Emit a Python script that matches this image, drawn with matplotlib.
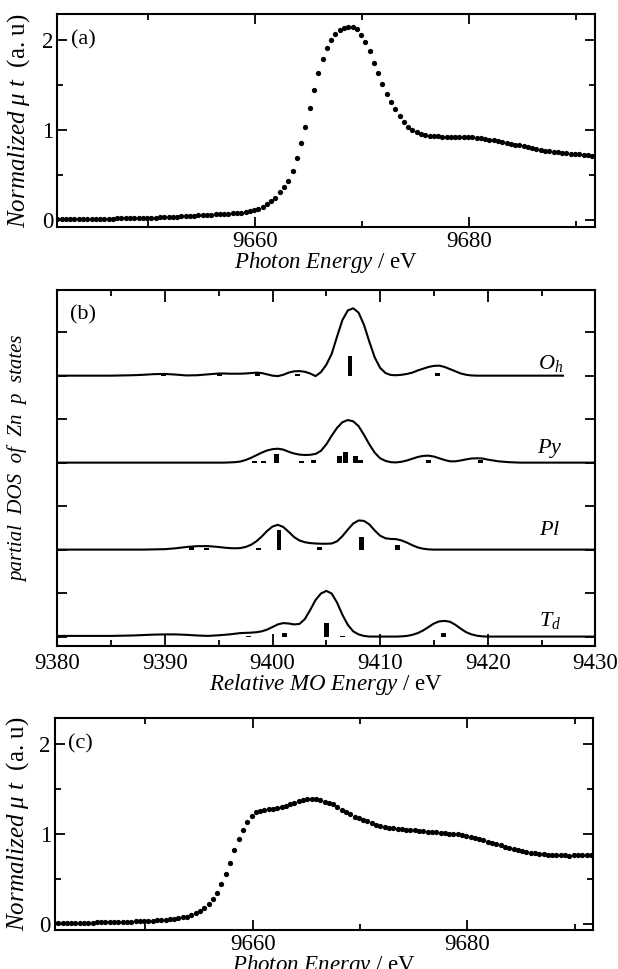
import numpy as np
import matplotlib
matplotlib.use("Agg")
import matplotlib.pyplot as plt
from matplotlib.ticker import FixedLocator, MultipleLocator, NullFormatter

plt.rcParams['font.family'] = ['Liberation Serif', 'DejaVu Serif']
plt.rcParams['mathtext.fontset'] = 'custom'
plt.rcParams['mathtext.rm'] = 'Liberation Serif'
plt.rcParams['mathtext.it'] = 'Liberation Serif:italic'
plt.rcParams['mathtext.bf'] = 'Liberation Serif:bold'

# ---- XANES spectra, panels (a) and (c) ----
photon_energy = [
    9641.5, 9641.9, 9642.3, 9642.7, 9643.1, 9643.5, 9643.9, 9644.3, 9644.7, 9645.1,
    9645.5, 9645.9, 9646.3, 9646.7, 9647.1, 9647.5, 9647.9, 9648.3, 9648.7, 9649.1,
    9649.5, 9649.9, 9650.3, 9650.7, 9651.1, 9651.5, 9651.9, 9652.3, 9652.7, 9653.1,
    9653.5, 9653.9, 9654.3, 9654.7, 9655.1, 9655.5, 9655.9, 9656.3, 9656.7, 9657.1,
    9657.5, 9657.9, 9658.3, 9658.7, 9659.1, 9659.5, 9659.9, 9660.3, 9660.7, 9661.1,
    9661.5, 9661.9, 9662.3, 9662.7, 9663.1, 9663.5, 9663.9, 9664.3, 9664.7, 9665.1,
    9665.5, 9665.9, 9666.3, 9666.7, 9667.1, 9667.5, 9667.9, 9668.3, 9668.7, 9669.1,
    9669.5, 9669.9, 9670.3, 9670.7, 9671.1, 9671.5, 9671.9, 9672.3, 9672.7, 9673.1,
    9673.5, 9673.9, 9674.3, 9674.7, 9675.1, 9675.5, 9675.9, 9676.3, 9676.7, 9677.1,
    9677.5, 9677.9, 9678.3, 9678.7, 9679.1, 9679.5, 9679.9, 9680.3, 9680.7, 9681.1,
    9681.5, 9681.9, 9682.3, 9682.7, 9683.1, 9683.5, 9683.9, 9684.3, 9684.7, 9685.1,
    9685.5, 9685.9, 9686.3, 9686.7, 9687.1, 9687.5, 9687.9, 9688.3, 9688.7, 9689.1,
    9689.5, 9689.9, 9690.3, 9690.7, 9691.1, 9691.5]

mu_a = [
    0.010, 0.010, 0.010, 0.010, 0.012, 0.012, 0.013, 0.013, 0.014, 0.015,
    0.015, 0.016, 0.017, 0.018, 0.019, 0.020, 0.021, 0.022, 0.023, 0.024,
    0.025, 0.026, 0.027, 0.029, 0.031, 0.033, 0.035, 0.037, 0.040, 0.042,
    0.044, 0.047, 0.050, 0.053, 0.056, 0.059, 0.062, 0.065, 0.068, 0.071,
    0.074, 0.078, 0.081, 0.085, 0.090, 0.098, 0.110, 0.125, 0.150, 0.185,
    0.21, 0.25, 0.31, 0.37, 0.43, 0.55, 0.69, 0.86, 1.04, 1.25,
    1.45, 1.64, 1.79, 1.91, 2.00, 2.07, 2.11, 2.14, 2.15, 2.15,
    2.12, 2.06, 1.98, 1.88, 1.75, 1.63, 1.51, 1.40, 1.31, 1.23,
    1.16, 1.09, 1.04, 1.00, 0.975, 0.96, 0.95, 0.94, 0.935, 0.93,
    0.925, 0.92, 0.92, 0.922, 0.925, 0.925, 0.922, 0.92, 0.915, 0.91,
    0.905, 0.895, 0.89, 0.88, 0.87, 0.86, 0.85, 0.84, 0.83, 0.82,
    0.81, 0.80, 0.79, 0.78, 0.77, 0.765, 0.76, 0.755, 0.75, 0.745,
    0.74, 0.735, 0.73, 0.725, 0.72, 0.715]

mu_c = [
    0.005, 0.006, 0.007, 0.008, 0.009, 0.010, 0.010, 0.011, 0.012, 0.013,
    0.014, 0.015, 0.016, 0.017, 0.018, 0.019, 0.020, 0.021, 0.023, 0.025,
    0.027, 0.029, 0.031, 0.034, 0.037, 0.040, 0.044, 0.049, 0.055, 0.062,
    0.070, 0.080, 0.095, 0.115, 0.140, 0.180, 0.225, 0.275, 0.340, 0.440,
    0.55, 0.68, 0.82, 0.95, 1.05, 1.13, 1.20, 1.24, 1.26, 1.27,
    1.275, 1.28, 1.29, 1.30, 1.315, 1.33, 1.35, 1.37, 1.38, 1.39,
    1.39, 1.385, 1.375, 1.36, 1.345, 1.33, 1.30, 1.27, 1.245, 1.22,
    1.195, 1.175, 1.155, 1.14, 1.12, 1.10, 1.09, 1.08, 1.07, 1.065,
    1.06, 1.055, 1.05, 1.045, 1.04, 1.035, 1.03, 1.025, 1.02, 1.02,
    1.015, 1.01, 1.005, 1.00, 0.995, 0.99, 0.98, 0.97, 0.96, 0.945,
    0.93, 0.915, 0.90, 0.89, 0.875, 0.86, 0.845, 0.83, 0.82, 0.81,
    0.80, 0.79, 0.785, 0.78, 0.775, 0.77, 0.768, 0.765, 0.763, 0.762,
    0.76, 0.762, 0.765, 0.767, 0.77, 0.77]

# ---- partial DOS, panel (b) ----
mo_energy = [
    9380, 9381, 9382, 9383, 9384, 9385, 9386, 9387, 9388, 9389,
    9390, 9391, 9392, 9393, 9394, 9395, 9395.5, 9396, 9396.5, 9397,
    9397.5, 9398, 9398.5, 9399, 9399.5, 9400, 9400.5, 9401, 9401.5, 9402,
    9402.5, 9403, 9403.5, 9404, 9404.5, 9405, 9405.5, 9406, 9406.5, 9407,
    9407.5, 9408, 9408.5, 9409, 9409.5, 9410, 9410.5, 9411, 9411.5, 9412,
    9412.5, 9413, 9413.5, 9414, 9414.5, 9415, 9415.5, 9416, 9416.5, 9417,
    9417.5, 9418, 9418.5, 9419, 9419.5, 9420, 9421, 9422, 9423, 9424,
    9425, 9426, 9427, 9428, 9429, 9430]

nan = float('nan')
dos_oh = [
    0, 0, 0, 0, 0, 0, 0.005, 0.01, 0.02, 0.035,
    0.04, 0.025, 0.005, 0.01, 0.03, 0.05, 0.05, 0.045, 0.045, 0.045,
    0.05, 0.06, 0.07, 0.06, 0.03, 0.0, -0.01, 0.02, 0.07, 0.10,
    0.105, 0.09, 0.05, -0.01, 0.08, 0.25, 0.50, 0.90, 1.28, 1.50,
    1.55, 1.45, 1.17, 0.78, 0.42, 0.18, 0.06, 0.015, 0.01, 0.02,
    0.04, 0.07, 0.12, 0.16, 0.20, 0.225, 0.23, 0.20, 0.15, 0.10,
    0.05, 0.02, 0.005, 0, 0, 0, 0, 0, 0, 0,
    0, 0, 0, nan, nan, nan]
dos_py = [
    0, 0, 0, 0, 0, 0, 0, 0, 0, 0,
    0, 0, 0, 0, 0, 0, 0, 0.005, 0.01, 0.025,
    0.06, 0.11, 0.17, 0.23, 0.28, 0.31, 0.32, 0.30, 0.25, 0.21,
    0.185, 0.175, 0.18, 0.20, 0.27, 0.42, 0.62, 0.80, 0.93, 0.98,
    0.95, 0.84, 0.64, 0.42, 0.23, 0.10, 0.04, 0.01, 0.005, 0.02,
    0.05, 0.09, 0.13, 0.155, 0.16, 0.14, 0.10, 0.06, 0.03, 0.03,
    0.05, 0.075, 0.095, 0.10, 0.095, 0.07, 0.03, 0.01, 0, 0,
    0, 0, 0, 0, 0, 0]
dos_pl = [
    0, 0, 0, 0, 0, 0, 0, 0, 0, 0.005,
    0.01, 0.03, 0.06, 0.08, 0.08, 0.06, 0.045, 0.035, 0.03, 0.035,
    0.06, 0.11, 0.19, 0.30, 0.43, 0.53, 0.57, 0.52, 0.41, 0.29,
    0.21, 0.17, 0.15, 0.14, 0.135, 0.135, 0.14, 0.19, 0.31, 0.46,
    0.60, 0.67, 0.66, 0.58, 0.44, 0.32, 0.26, 0.245, 0.24, 0.21,
    0.16, 0.10, 0.05, 0.02, 0.005, 0, 0, 0, 0, 0,
    0, 0, 0, 0, 0, 0, 0, 0, 0, 0,
    0, 0, 0, 0, 0, 0]
dos_td = [
    0.015, 0.015, 0.015, 0.015, 0.015, 0.015, 0.02, 0.025, 0.035, 0.045,
    0.05, 0.05, 0.04, 0.025, 0.015, 0.03, 0.04, 0.05, 0.065, 0.08,
    0.085, 0.09, 0.10, 0.12, 0.16, 0.22, 0.28, 0.31, 0.30, 0.28,
    0.29, 0.40, 0.61, 0.84, 0.99, 1.05, 0.99, 0.78, 0.50, 0.27,
    0.12, 0.05, 0.015, 0, 0, 0, 0, 0, 0, 0.005,
    0.015, 0.04, 0.08, 0.14, 0.22, 0.30, 0.35, 0.36, 0.34, 0.27,
    0.18, 0.10, 0.05, 0.02, 0.005, 0, 0, 0, 0, 0,
    0, 0, 0, 0, 0, 0]

# MO levels (sticks)
stick_oh_e = [9389.9, 9395.1, 9398.6, 9402.3, 9407.2, 9415.3]
stick_oh_h = [0.03, 0.03, 0.05, 0.03, 0.45, 0.07]
stick_py_e = [9398.3, 9399.2, 9400.4, 9402.7, 9403.8, 9406.2, 9406.8, 9407.7, 9408.2, 9414.5, 9419.3]
stick_py_h = [0.03, 0.03, 0.21, 0.03, 0.06, 0.15, 0.24, 0.15, 0.05, 0.05, 0.05]
stick_pl_e = [9392.5, 9393.9, 9398.7, 9400.6, 9404.4, 9408.3, 9411.6]
stick_pl_h = [0.05, 0.03, 0.03, 0.44, 0.06, 0.28, 0.10]
stick_td_e = [9397.8, 9401.1, 9405.0, 9406.5, 9415.9]
stick_td_h = [0.02, 0.08, 0.31, 0.02, 0.08]

spectra = [
    ('$O_h$', 6, dos_oh, stick_oh_e, stick_oh_h, 0.28),
    ('$Py$', 4, dos_py, stick_py_e, stick_py_h, 0.33),
    ('$Pl$', 2, dos_pl, stick_pl_e, stick_pl_h, 0.45),
    ('$T_d$', 0, dos_td, stick_td_e, stick_td_h, 0.38),
]

W, H = 618, 969
fig = plt.figure(figsize=(W / 100, H / 100), dpi=100)


def rect(l, r, t, b):
    return [l / W, 1 - b / H, (r - l) / W, (b - t) / H]


def style(ax):
    ax.tick_params(which='both', direction='in', top=True, right=True,
                   labelsize=16.5, width=1.3)
    ax.tick_params(which='major', length=7, pad=3)
    ax.tick_params(which='minor', length=4)
    for s in ax.spines.values():
        s.set_linewidth(1.5)


mu_label = r'$Normalized\ \mu\ t$  (a. u)'
e_label = r'$Photon\ Energy$ / eV'

for rc, mu, lab, xl, ylc, xlc in [
        (rect(57.3, 595.3, 14, 226.5), mu_a, '(a)', (9641.5, 9691.8), (-0.047, 0.5), -0.112),
        (rect(55, 593, 718.3, 930), mu_c, '(c)', (9641.6, 9691.7), (-0.044, 0.5), -0.11)]:
    ax = fig.add_axes(rc)
    ax.plot(photon_energy, mu, 'o', color='k', ms=3.8, mec='k', mew=0)
    ax.set_xlim(*xl)
    ax.set_ylim(-0.07, 2.29)
    ax.xaxis.set_major_locator(FixedLocator([9660, 9680]))
    ax.xaxis.set_minor_locator(FixedLocator([9650, 9670, 9690]))
    ax.yaxis.set_major_locator(FixedLocator([0, 1, 2]))
    ax.yaxis.set_minor_locator(FixedLocator([0.5, 1.5]))
    style(ax)
    ax.set_ylabel(mu_label, fontsize=18)
    ax.yaxis.set_label_coords(*ylc)
    ax.set_xlabel(e_label, fontsize=16.5)
    ax.xaxis.set_label_coords(0.5, xlc)
    ax.text(0.025, 2.0, lab, transform=ax.get_yaxis_transform(),
            va='center', ha='left', fontsize=16)

# panel (b)
axb = fig.add_axes(rect(57.3, 595.3, 290, 645.7))
for name, off, dos, se, sh, ty in spectra:
    axb.plot(mo_energy, np.array(dos) + off, color='k', lw=1.5)
    axb.bar(se, sh, width=0.45, bottom=off, color='k')
    axb.text(9425.8, off + ty, name, ha='center', va='center', fontsize=16)
axb.set_xlim(9380, 9430)
axb.set_ylim(-0.21, 7.97)
axb.xaxis.set_major_locator(MultipleLocator(10))
axb.xaxis.set_minor_locator(MultipleLocator(5))
axb.yaxis.set_major_locator(MultipleLocator(1))
axb.yaxis.set_major_formatter(NullFormatter())
style(axb)
axb.tick_params(axis='x', which='major', length=8.5, pad=5)
axb.set_xlabel(r'$Relative\ MO\ Energy$ / eV', fontsize=16.5)
axb.xaxis.set_label_coords(0.5, -0.074)
axb.set_ylabel('partial  DOS  of  Zn  p  states', fontsize=15, style='italic')
axb.yaxis.set_label_coords(-0.054, 0.525)
axb.text(0.024, 0.93, '(b)', transform=axb.transAxes, va='center', ha='left', fontsize=16)

fig.savefig('out.png', dpi=100)
